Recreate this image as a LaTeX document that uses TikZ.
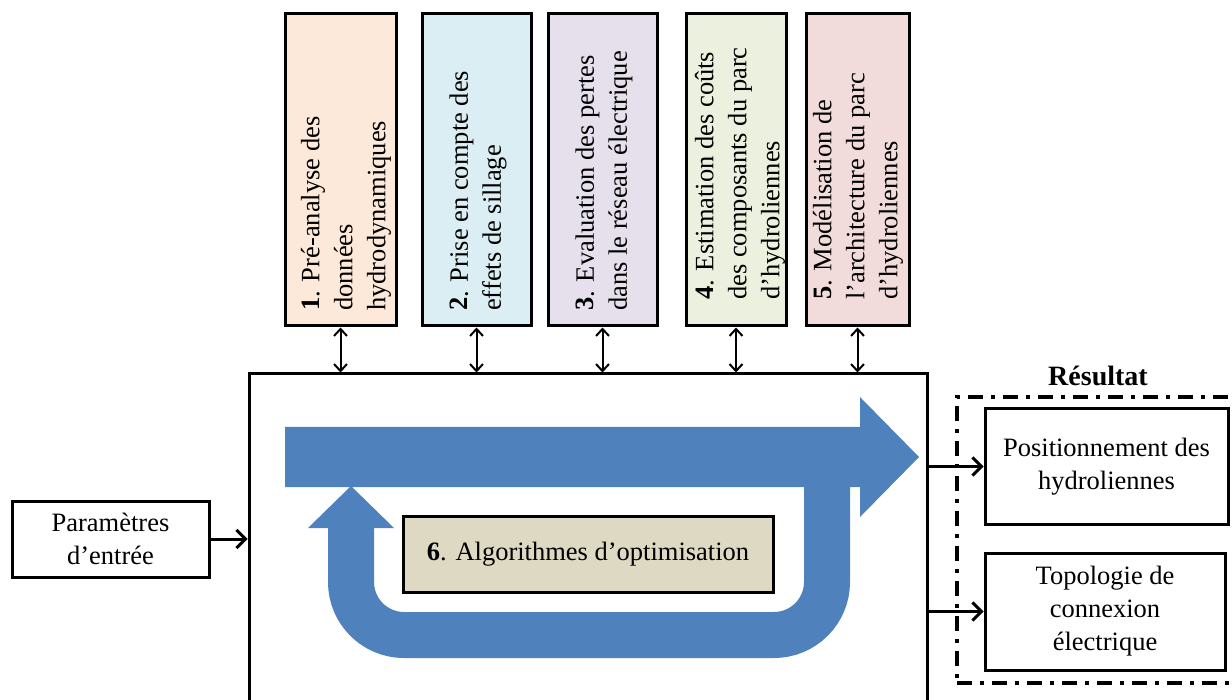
\documentclass[tikz,border=0pt]{standalone}
\usepackage{fontspec}
\setmainfont{Liberation Serif}
\usetikzlibrary{arrows.meta}
\definecolor{cA}{HTML}{FDE9D9}
\definecolor{cB}{HTML}{DBEEF3}
\definecolor{cC}{HTML}{E5E0EC}
\definecolor{cD}{HTML}{EBF1DE}
\definecolor{cE}{HTML}{F2DCDB}
\definecolor{cF}{HTML}{DDD9C3}
\definecolor{flowblue}{HTML}{4F81BD}
\newcommand\figfs{\fontsize{26.5}{33}\selectfont}
\begin{document}
\begin{tikzpicture}[x=1pt,y=-1pt,
  box/.style={draw, line width=3pt, inner sep=0pt, align=center, font=\figfs},
  topbox/.style={box, minimum height=312pt},
  vtext/.style={rotate=90, anchor=west, align=left, inner sep=0pt, font=\figfs},
  dbl/.style={line width=2pt, {Straight Barb[length=7pt,width=13pt]}-{Straight Barb[length=7pt,width=13pt]}},
  outarr/.style={line width=3pt, -{Straight Barb[length=9pt,width=18pt]}},
  flow/.style={fill=flowblue, draw=none}
]
\useasboundingbox (0,0) rectangle (1232,700);

% top boxes
\node[topbox, fill=cA, minimum width=111pt] (b1) at (340.5,170) {};
\node[topbox, fill=cB, minimum width=109pt] (b2) at (476.5,170) {};
\node[topbox, fill=cC, minimum width=109pt] (b3) at (602.5,170) {};
\node[topbox, fill=cD, minimum width=100pt] (b4) at (736,170) {};
\node[topbox, fill=cE, minimum width=103pt] (b5) at (857.5,170) {};

\node[vtext] (t1) at (346,311) {\textbf{1}. Pré-analyse des\\données\\hydrodynamiques};
\node[vtext] (t2) at (478,311) {\textbf{2}. Prise en compte des\\effets de sillage};
\node[vtext] (t3) at (604,311) {\textbf{3}. Evaluation des pertes\\dans le réseau électrique};
\node[vtext] (t4) at (740,300) {\textbf{4}. Estimation des coûts\\des composants du parc\\d’hydroliennes};
\node[vtext] (t5) at (858,300) {\textbf{5}. Modélisation de\\l’architecture du parc\\d’hydroliennes};

% main box
\node[box, fill=white, minimum width=678pt, minimum height=346pt] (main) at (588,547) {};

% double arrows
\foreach \i in {1,...,5}{
  \draw[dbl] (b\i.south) -- (b\i.south |- main.north);
}

% blue flow
\fill[flow] (285,427) -- (860,427) -- (860,397) -- (919,457) -- (860,517) -- (860,487) -- (285,487) -- cycle;
\draw[flowblue, line width=46pt, rounded corners=53pt] (351,524) -- (351,635) -- (827,635) -- (827,480);
\fill[flow] (308,528) -- (394,528) -- (351,486) -- cycle;

% algorithm box
\node[box, fill=cF, minimum width=370pt, minimum height=76pt] (b6) at (588,554) {\textbf{6}. Algorithmes d’optimisation};

% input
\node[box, minimum width=197pt, minimum height=76pt] (param) at (110.5,539) {Paramètres\\d’entrée};
\draw[outarr] (param.east) -- (param.east -| main.west);

% results
\node[draw, line width=4pt, dash pattern=on 15pt off 8pt on 4pt off 8pt, minimum width=290pt, minimum height=286pt, inner sep=0pt] (resf) at (1102,540) {};
\node[font=\fontsize{28}{33}\selectfont\bfseries, inner sep=0pt] (restitle) at (1098,376) {Résultat};
\node[box, minimum width=243pt, minimum height=115pt] (p1) at (1106.5,466.5) {Positionnement des\\hydroliennes};
\node[box, minimum width=240pt, minimum height=117pt] (p2) at (1105,611.5) {Topologie de\\connexion\\électrique};
\draw[outarr] (p1.west -| main.east) -- (p1.west);
\draw[outarr] (p2.west -| main.east) -- (p2.west);
\end{tikzpicture}
\end{document}
